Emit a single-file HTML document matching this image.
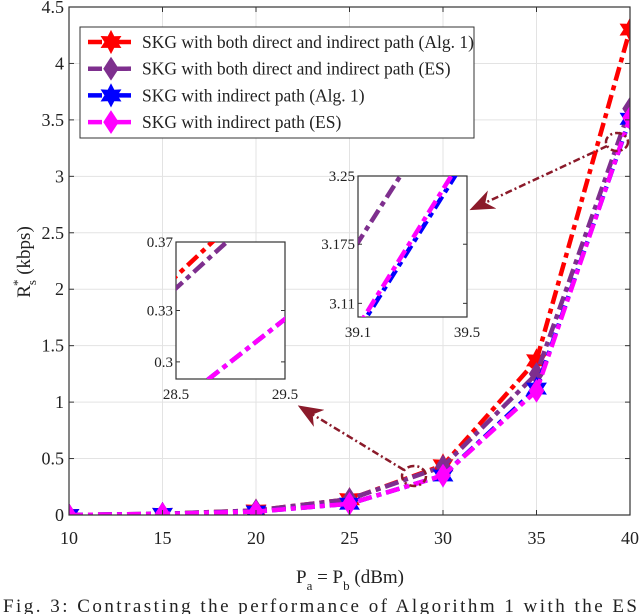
<!DOCTYPE html>
<html><head><meta charset="utf-8"><style>
html,body{margin:0;background:#fff;overflow:hidden;width:640px;height:614px;}
svg{display:block;}
svg text{font-family:"Liberation Serif","Times New Roman","DejaVu Serif",serif;}
</style></head><body>
<svg id="chart" width="640" height="614" viewBox="0 0 640 614">
<defs>
<clipPath id="clipMain"><rect x="69" y="7" width="561" height="508"/></clipPath>
<clipPath id="clipIn1"><rect x="176" y="242" width="109" height="137"/></clipPath>
<clipPath id="clipIn2"><rect x="358" y="176" width="109" height="141"/></clipPath>
<clipPath id="clipPage"><rect x="0" y="0" width="640" height="614"/></clipPath>
<marker id="arr" markerWidth="10" markerHeight="8" refX="8" refY="4" orient="auto"><path d="M0,0 L10,4 L0,8 L3,4 Z" fill="#8b1a2a"/></marker>
</defs>
<g clip-path="url(#clipPage)">
<g id="grid"></g>
<g id="series" clip-path="url(#clipMain)"></g>
<rect x="69" y="7" width="561" height="508" fill="none" stroke="#333" stroke-width="1.2"/>
<g id="ticks"></g>
<g id="insets"></g>
<g>
<ellipse cx="414" cy="476" rx="12" ry="10" fill="none" stroke="#8b1a2a" stroke-width="2.5" stroke-dasharray="7,3,2,3"/>
<line x1="404" y1="470" x2="302" y2="408" stroke="#8b1a2a" stroke-width="2.5" stroke-dasharray="7,3,2,3" marker-end="url(#arr)"/>
<ellipse cx="617" cy="142" rx="11" ry="9" fill="none" stroke="#8b1a2a" stroke-width="2.5" stroke-dasharray="7,3,2,3"/>
<line x1="607" y1="146" x2="474" y2="208" stroke="#8b1a2a" stroke-width="2.5" stroke-dasharray="7,3,2,3" marker-end="url(#arr)"/>
</g>
<g id="legend">
<rect x="80" y="27" width="394" height="111" fill="#fff" stroke="#333" stroke-width="1"/>
</g>
<text x="30" y="262" transform="rotate(-90 30 262)" text-anchor="middle" font-size="19" fill="#222">R<tspan font-size="13" dy="6">s</tspan><tspan font-size="13" dy="-14" dx="-6">*</tspan><tspan dy="8"> (kbps)</tspan></text>
<text x="350" y="583" text-anchor="middle" font-size="19" fill="#222">P<tspan font-size="13" dy="7">a</tspan><tspan dy="-7"> = P</tspan><tspan font-size="13" dy="7">b</tspan><tspan dy="-7"> (dBm)</tspan></text>
<text x="3" y="612" font-size="19" fill="#222" textLength="634" lengthAdjust="spacing">Fig. 3: Contrasting the performance of Algorithm 1 with the ES</text>
</g>
</svg>
<script>
const xVals=[10,15,20,25,30,35,40];
const redVals=[0,0.01,0.04,0.14,0.44,1.37,4.3];
const purpleVals=[0,0.01,0.04,0.14,0.43,1.25,3.6];
const blueVals=[0,0.01,0.03,0.10,0.35,1.12,3.51];
const magentaVals=[0,0.01,0.03,0.10,0.35,1.10,3.52];
const xTicks=[10,15,20,25,30,35,40];
const yTicks=[0,0.5,1,1.5,2,2.5,3,3.5,4,4.5];
const legendLabels=["SKG with both direct and indirect path (Alg. 1)","SKG with both direct and indirect path (ES)","SKG with indirect path (Alg. 1)","SKG with indirect path (ES)"];
const in1X=[28.5,29.5],in1Y=[0.29,0.37],in1YT=[0.3,0.33,0.37];
const in2X=[39.1,39.5],in2Y=[3.095,3.25],in2YT=[3.11,3.175,3.25];

const NS="http://www.w3.org/2000/svg";
function mk(t,a,p){const e=document.createElementNS(NS,t);for(const k in a)e.setAttribute(k,a[k]);p.appendChild(e);return e;}
const X0=69,X1=630,Y0=515,Y1=7;
const sx=v=>X0+(v-10)/30*(X1-X0);
const sy=v=>Y0-(v/4.5)*(Y0-Y1);
const series=[
 {vals:redVals,color:"#ff0000",mk:"star",name:"red-alg1"},
 {vals:purpleVals,color:"#7e2f8e",mk:"diamond",name:"purple-es"},
 {vals:blueVals,color:"#0000ff",mk:"star",name:"blue-alg1"},
 {vals:magentaVals,color:"#ff00ff",mk:"diamond",name:"magenta-es"}];
function linePts(vals,fx,fy){return xVals.map((x,i)=>fx(x).toFixed(2)+","+fy(vals[i]).toFixed(2)).join(" ");}
function starPath(cx,cy,r){let d="";for(let i=0;i<12;i++){const rr=i%2?r*0.55:r;const a=-Math.PI/2+i*Math.PI/6;d+=(i?"L":"M")+(cx+rr*Math.cos(a)).toFixed(1)+","+(cy+rr*Math.sin(a)).toFixed(1);}return d+"Z";}
function diamondPath(cx,cy,r){return `M${cx},${cy-r}L${cx+r*0.65},${cy}L${cx},${cy+r}L${cx-r*0.65},${cy}Z`;}
function marker(g,type,cx,cy,color,r){return mk("path",{d:type=="star"?starPath(cx,cy,r):diamondPath(cx,cy,r),fill:color,stroke:color,"stroke-width":1},g);}
const grid=document.getElementById("grid");
xTicks.forEach(t=>{const l=mk("line",{x1:sx(t),x2:sx(t),y1:Y1,y2:Y0,stroke:"#e3e3e3","stroke-width":1},grid);});
yTicks.forEach(t=>{const l=mk("line",{x1:X0,x2:X1,y1:sy(t),y2:sy(t),stroke:"#e3e3e3","stroke-width":1},grid);});
const tg=document.getElementById("ticks");
xTicks.forEach(t=>{mk("line",{x1:sx(t),x2:sx(t),y1:Y0,y2:Y0-5,stroke:"#333"},tg);mk("line",{x1:sx(t),x2:sx(t),y1:Y1,y2:Y1+5,stroke:"#333"},tg);
 const tx=mk("text",{x:sx(t),y:544,"text-anchor":"middle","font-size":18,fill:"#222"},tg);tx.textContent=t;
 });
yTicks.forEach(t=>{mk("line",{x1:X0,x2:X0+5,y1:sy(t),y2:sy(t),stroke:"#333"},tg);mk("line",{x1:X1,x2:X1-5,y1:sy(t),y2:sy(t),stroke:"#333"},tg);
 const tx=mk("text",{x:X0-5,y:sy(t)+6,"text-anchor":"end","font-size":18,fill:"#222"},tg);tx.textContent=t;
 });
const sg=document.getElementById("series");
series.forEach(s=>{const pl=mk("polyline",{points:linePts(s.vals,sx,sy),fill:"none",stroke:s.color,"stroke-width":4.5,"stroke-dasharray":"14,5,5,5"},sg);
 
 xVals.forEach((x,i)=>{const m=marker(sg,s.mk,sx(x),sy(s.vals[i]),s.color,11);});});
const ig=document.getElementById("insets");
function inset(bx,by,bw,bh,xr,yr,yt,clip,name){
 const g=mk("g",{},ig);
 mk("rect",{x:bx,y:by,width:bw,height:bh,fill:"#fff",stroke:"#333","stroke-width":1.2},g);
 const fx=v=>bx+(v-xr[0])/(xr[1]-xr[0])*bw, fy=v=>by+bh-(v-yr[0])/(yr[1]-yr[0])*bh;
 const cg=mk("g",{"clip-path":`url(#${clip})`},g);
 series.forEach(s=>{const pl=mk("polyline",{points:linePts(s.vals,fx,fy),fill:"none",stroke:s.color,"stroke-width":4.5,"stroke-dasharray":"14,5,5,5"},cg);
  });
 xr.forEach(v=>{const t=mk("text",{x:fx(v),y:by+bh+20,"text-anchor":"middle","font-size":15,fill:"#222"},g);t.textContent=v;});
 yt.forEach(v=>{mk("line",{x1:bx,x2:bx+4,y1:fy(v),y2:fy(v),stroke:"#333"},g);mk("line",{x1:bx+bw,x2:bx+bw-4,y1:fy(v),y2:fy(v),stroke:"#333"},g);
  const t=mk("text",{x:bx-3,y:fy(v)+5,"text-anchor":"end","font-size":15,fill:"#222"},g);t.textContent=v;});
}
inset(176,242,109,137,in1X,in1Y,in1YT,"clipIn1","inset-30dbm");
inset(358,176,109,141,in2X,in2Y,in2YT,"clipIn2","inset-39dbm");
const lg=document.getElementById("legend");
legendLabels.forEach((lab,i)=>{const y=42+i*26.7,s=series[i];
 const g=mk("g",{},lg);
 mk("line",{x1:88,x2:135,y1:y,y2:y,stroke:s.color,"stroke-width":4.5,"stroke-dasharray":"14,5,5,5"},g);
 marker(g,s.mk,111,y,s.color,11);
 const t=mk("text",{x:142,y:y+6,"font-size":17.5,fill:"#222"},g);t.textContent=lab;});
</script>
</body></html>
